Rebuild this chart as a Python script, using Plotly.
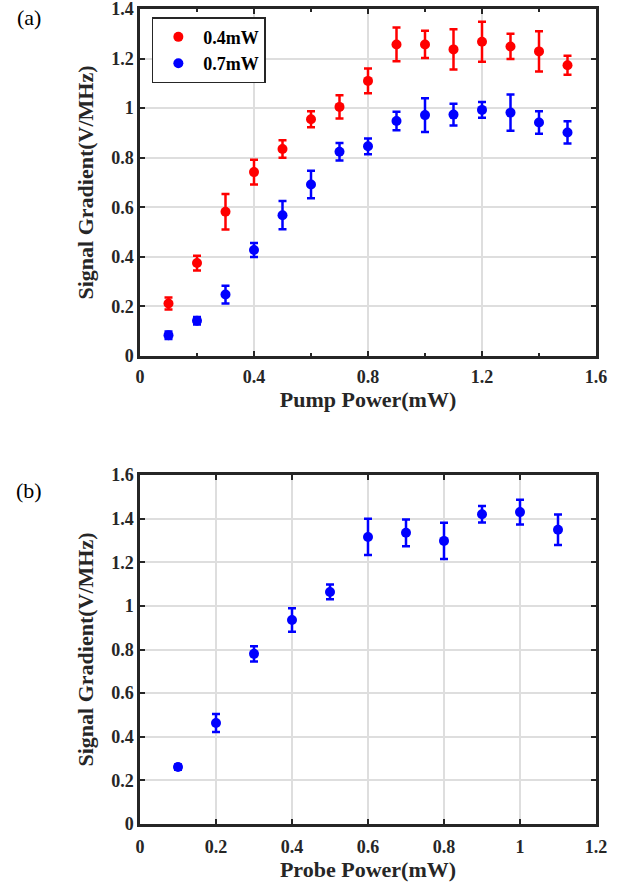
import plotly.graph_objects as go

# Panel (a): pump power sweep
pump_x = [0.1, 0.2, 0.3, 0.4, 0.5, 0.6, 0.7, 0.8, 0.9, 1.0, 1.1, 1.2, 1.3, 1.4, 1.5]
red_y = [0.212, 0.375, 0.582, 0.742, 0.835, 0.955, 1.005, 1.11, 1.257, 1.257, 1.237, 1.268, 1.249, 1.229, 1.173]
red_err = [0.024, 0.03, 0.072, 0.05, 0.035, 0.032, 0.047, 0.05, 0.068, 0.055, 0.081, 0.081, 0.051, 0.081, 0.038]
blue_y = [0.084, 0.142, 0.248, 0.428, 0.568, 0.692, 0.824, 0.846, 0.948, 0.972, 0.974, 0.993, 0.982, 0.942, 0.902]
blue_err = [0.015, 0.015, 0.036, 0.028, 0.057, 0.055, 0.035, 0.032, 0.037, 0.068, 0.044, 0.032, 0.073, 0.045, 0.045]
legend_names = ["0.4mW", "0.7mW"]

# Panel (b): probe power sweep
probe_x = [0.1, 0.2, 0.3, 0.4, 0.5, 0.6, 0.7, 0.8, 0.9, 1.0, 1.1]
probe_y = [0.261, 0.463, 0.78, 0.935, 1.064, 1.316, 1.335, 1.298, 1.42, 1.43, 1.349]
probe_err = [0.012, 0.041, 0.035, 0.054, 0.034, 0.083, 0.061, 0.083, 0.038, 0.057, 0.07]

FONT = "Liberation Serif"
AX = "#262626"
GRID = "#dedede"

fig = go.Figure()

def add_series(x, y, err, color, name, xa, ya, showlegend):
    fig.add_trace(go.Scatter(
        x=x, y=y, mode="markers", name=name, showlegend=showlegend,
        xaxis=xa, yaxis=ya,
        marker=dict(color=color, size=10, symbol="circle"),
        error_y=dict(type="data", array=err, visible=True, color=color,
                     thickness=2.5, width=4),
    ))

add_series(pump_x, red_y, red_err, "#ff0000", legend_names[0], "x", "y", True)
add_series(pump_x, blue_y, blue_err, "#0000ff", legend_names[1], "x", "y", True)
add_series(probe_x, probe_y, probe_err, "#0000ff", "probe", "x2", "y2", False)

common_axis = dict(
    showline=True, linecolor=AX, linewidth=2.5, mirror="allticks",
    ticks="inside", ticklen=5, tickwidth=2, tickcolor=AX,
    showgrid=True, gridcolor=GRID, gridwidth=2, zeroline=False,
    tickfont=dict(family=FONT, size=18, color=AX, weight="bold"),
    automargin=False, ticklabeloverflow="allow",
)

title_font = dict(family=FONT, size=22, color=AX, weight="bold")

fig.update_layout(
    width=636, height=888,
    margin=dict(l=140, r=40, t=9, b=64),
    paper_bgcolor="white", plot_bgcolor="white",
    font=dict(family=FONT, color=AX),
    showlegend=True,
    legend=dict(x=0.026, y=0.990, xanchor="left", yanchor="top",
                bordercolor=AX, borderwidth=1.5, bgcolor="white",
                font=dict(family=FONT, size=18, color="black", weight="bold"),
                tracegroupgap=0, itemwidth=40),
    xaxis=dict(common_axis, domain=[0, 1], anchor="y", range=[0, 1.6],
               dtick=0.4, tickformat="~g", ticklabelstandoff=3,
               minor=dict(dtick=0.2, ticks="inside", ticklen=3, tickwidth=2,
                          tickcolor=AX, showgrid=False),
               title=dict(text="Pump Power(mW)", font=title_font, standoff=5)),
    yaxis=dict(common_axis, domain=[0.5742, 1], anchor="x", range=[0, 1.4],
               dtick=0.2, tickformat="~g", ticklabelstandoff=0,
               title=dict(text="Signal Gradient(V/MHz)", font=title_font, standoff=12)),
    xaxis2=dict(common_axis, domain=[0, 1], anchor="y2", range=[0, 1.2],
                dtick=0.2, tickformat="~g", ticklabelstandoff=5,
                title=dict(text="Probe Power(mW)", font=title_font, standoff=5)),
    yaxis2=dict(common_axis, domain=[0, 0.4282], anchor="x2", range=[0, 1.6],
                dtick=0.2, tickformat="~g", ticklabelstandoff=0,
                title=dict(text="Signal Gradient(V/MHz)", font=title_font, standoff=12)),
)

fig.add_annotation(text="(a)", x=-0.2434, y=0.990, xref="paper", yref="paper",
                   xanchor="center", yanchor="middle",
                   showarrow=False, font=dict(family=FONT, size=22, color="black"))
fig.add_annotation(text="(b)", x=-0.2434, y=0.4098, xref="paper", yref="paper",
                   xanchor="center", yanchor="middle",
                   showarrow=False, font=dict(family=FONT, size=22, color="black"))

fig.write_html("out.html", config={"displayModeBar": False},
               post_script="document.body.style.margin='0px';")
